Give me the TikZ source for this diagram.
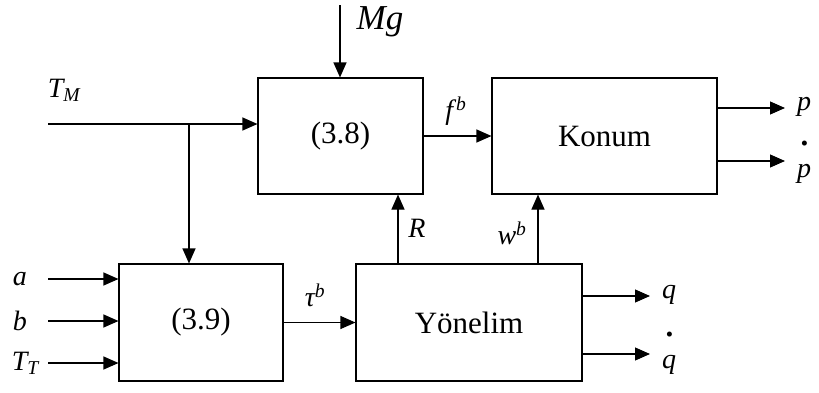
\documentclass[tikz,border=0pt]{standalone}
\usepackage{fontspec}
\setmainfont{Liberation Serif}
\usetikzlibrary{arrows.meta}

% nokta (turev) isareti olan etiket
\newcommand{\turev}[1]{{\fontsize{21}{21}\selectfont\textbullet}\\[-3pt]#1}

\begin{document}
\begin{tikzpicture}[x=1pt, y=-1pt,
    blok/.style={draw, line width=1.1pt, inner sep=0pt},
    ok/.style={line width=1.1pt, -{Triangle[length=15pt, width=13pt]}},
    etiket/.style={font=\fontsize{28}{30}\selectfont\itshape, inner sep=1pt},
    cikis/.style={etiket, inner xsep=12pt},
    yazi/.style={font=\fontsize{31}{33}\selectfont}]
    \useasboundingbox (0,0) rectangle (819,392);
    % bloklar
    \node[blok, yazi, minimum width=165pt, minimum height=116pt] (b38) at (340.5,136) {(3.8)};
    \node[blok, yazi, minimum width=225pt, minimum height=116pt] (konum) at (604.5,136) {Konum};
    \node[blok, yazi, minimum width=164pt, minimum height=117pt] (b39) at (201,322.5) {(3.9)};
    \node[blok, yazi, minimum width=226pt, minimum height=117pt] (yon) at (469,322.5) {Yönelim};
    % girisler
    \coordinate (mgust) at (340,5);
    \node[etiket, font=\fontsize{35}{37}\selectfont\itshape] (mg) at (380,22) {Mg};
    \coordinate (tmbas) at (48,124);
    \coordinate (kol) at (189,124);
    \node[etiket] (tm) at (64,90) {T\textsubscript{M}};
    \node[etiket, anchor=east] (a) at (28,279) {a};
    \node[etiket, anchor=east] (b) at (28,321) {b};
    \node[etiket, anchor=east] (tt) at (40,363) {T\textsubscript{T}};
    % cikislar
    \coordinate (pucu) at (785,108);
    \coordinate (pnuc) at (785,161);
    \coordinate (qucu) at (650,296);
    \coordinate (qnuc) at (650,354);
    \node[cikis, anchor=base west] (p) at (785,110) {p};
    \node[cikis, anchor=south west, align=center] (pn) at (785,185) {\turev{p}};
    \node[cikis, anchor=base west] (q) at (650,298) {q};
    \node[cikis, anchor=south west, align=center] (qn) at (650,376) {\turev{q}};
    % ara etiketler
    \node[etiket] (fb) at (456,111) {f\kern3pt\textsuperscript{b}};
    \node[etiket] (r) at (417,228) {R};
    \node[etiket] (wb) at (512,233) {w\textsuperscript{b}};
    \node[etiket] (tau) at (315,295) {τ\textsuperscript{b}};
    % oklar
    \draw[ok] (mgust) -- (b38.north -| mgust);
    \draw[ok] (tmbas) -- (b38.west |- tmbas);
    \draw[ok] (kol) -- (b39.north -| kol);
    \draw[ok] (a.east) ++(20pt,0) -- (b39.west |- a);
    \draw[ok] (b.east) ++(20pt,0) -- (b39.west |- b);
    \draw[ok] (tt.east) ++(8pt,0) -- (b39.west |- tt);
    \draw[ok] (b38.east) -- (konum.west);
    \draw[ok] (b39.east) -- (yon.west);
    \draw[ok] ([xshift=-71pt]yon.north) -- ([xshift=57.5pt]b38.south);
    \draw[ok] ([xshift=69pt]yon.north) -- ([xshift=-66.5pt]konum.south);
    \draw[ok] (konum.east |- pucu) -- (pucu);
    \draw[ok] (konum.east |- pnuc) -- (pnuc);
    \draw[ok] (yon.east |- qucu) -- (qucu);
    \draw[ok] (yon.east |- qnuc) -- (qnuc);
\end{tikzpicture}
\end{document}
